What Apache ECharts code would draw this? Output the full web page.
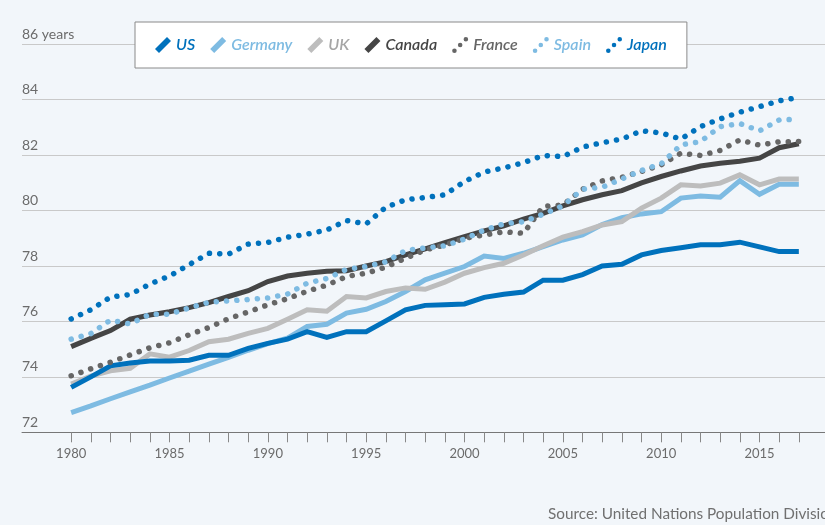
<!DOCTYPE html>
<html>
<head>
<meta charset="utf-8">
<script src="https://cdn.jsdelivr.net/npm/echarts@6/dist/echarts.min.js"></script>
<style>
  html, body { margin: 0; padding: 0; background: #f2f6fa; }
  #chart { width: 825px; height: 525px; }
</style>
</head>
<body>
<div id="chart"></div>
<script>
// Life expectancy at birth, 1980–2017 (years)
const years = [];
for (let y = 1980; y <= 2017; y++) years.push(y);

const us = [73.62, 74.0, 74.4, 74.5, 74.57, 74.57, 74.6, 74.78, 74.78, 75.03,
            75.21, 75.36, 75.63, 75.42, 75.63, 75.63, 76.02, 76.42, 76.58, 76.6,
            76.63, 76.87, 76.98, 77.06, 77.49, 77.49, 77.69, 78.0, 78.06, 78.4,
            78.56, 78.66, 78.77, 78.77, 78.86, 78.69, 78.52, 78.52];
const germany = [72.71, 72.95, 73.21, 73.46, 73.70, 73.96, 74.21, 74.46, 74.70, 74.96,
                 75.2, 75.4, 75.82, 75.9, 76.3, 76.44, 76.72, 77.08, 77.5, 77.74,
                 77.98, 78.36, 78.27, 78.46, 78.7, 78.94, 79.12, 79.5, 79.74, 79.88,
                 79.96, 80.45, 80.53, 80.48, 81.08, 80.59, 80.95, 80.95];
const uk = [73.74, 74.03, 74.22, 74.31, 74.83, 74.71, 74.95, 75.27, 75.36, 75.57,
            75.75, 76.08, 76.42, 76.37, 76.9, 76.85, 77.08, 77.21, 77.16, 77.42,
            77.74, 77.94, 78.1, 78.4, 78.73, 79.04, 79.24, 79.48, 79.6, 80.09,
            80.45, 80.93, 80.89, 80.99, 81.29, 80.93, 81.14, 81.14];
const canada = [75.09, 75.39, 75.67, 76.08, 76.23, 76.35, 76.5, 76.68, 76.9, 77.11,
                77.44, 77.64, 77.74, 77.81, 77.83, 78.0, 78.16, 78.4, 78.62, 78.84,
                79.06, 79.27, 79.45, 79.69, 79.9, 80.17, 80.39, 80.57, 80.72, 81.0,
                81.23, 81.43, 81.61, 81.71, 81.78, 81.89, 82.27, 82.41];
const france = [74.04, 74.29, 74.53, 74.79, 75.05, 75.23, 75.52, 75.78, 76.1, 76.34,
                76.6, 76.82, 77.09, 77.31, 77.62, 77.74, 77.96, 78.28, 78.58, 78.76,
                79.0, 79.12, 79.23, 79.18, 80.15, 80.2, 80.77, 81.07, 81.2, 81.41,
                81.65, 82.07, 81.99, 82.17, 82.55, 82.36, 82.48, 82.49];
const spain = [75.36, 75.56, 76.05, 75.91, 76.26, 76.26, 76.49, 76.69, 76.74, 76.79,
               76.85, 76.99, 77.38, 77.55, 77.88, 77.98, 78.15, 78.56, 78.65, 78.73,
               78.97, 79.3, 79.52, 79.6, 79.87, 80.17, 80.77, 80.84, 81.14, 81.45,
               81.69, 82.37, 82.49, 83.03, 83.14, 82.88, 83.27, 83.3];
const japan = [76.09, 76.42, 76.88, 76.97, 77.35, 77.64, 78.05, 78.46, 78.43, 78.79,
               78.85, 79.04, 79.15, 79.3, 79.64, 79.52, 80.12, 80.39, 80.47, 80.57,
               81.05, 81.39, 81.54, 81.73, 81.99, 81.95, 82.29, 82.45, 82.58, 82.88,
               82.8, 82.58, 83.03, 83.31, 83.55, 83.75, 83.96, 84.08];

const xLabelYears = [1980, 1985, 1990, 1995, 2000, 2005, 2010, 2015];
const yTicks = [72, 74, 76, 78, 80, 82, 84, 86];

const BLUE = '#0071bc';
const LIGHT = '#7ebbe2';
const GREY = '#bdbdbd';
const DARK = '#454545';
const MID = '#666666';

const FONT = 'Lato, "Noto Sans", sans-serif';

// legend glyphs: a slanted bar for solid lines, three dots for dotted lines
const BAR_ICON = 'path://M0,12 L12,0 L16,4 L4,16 Z';
const DOT_ICON = 'path://M0.3,13.7 a2.2,2.2 0 1,0 4.4,0 a2.2,2.2 0 1,0 -4.4,0 Z ' +
                 'M5.8,8.2 a2.2,2.2 0 1,0 4.4,0 a2.2,2.2 0 1,0 -4.4,0 Z ' +
                 'M11.3,2.7 a2.2,2.2 0 1,0 4.4,0 a2.2,2.2 0 1,0 -4.4,0 Z';

const pairs = vals => years.map((y, i) => [y, vals[i]]);

function solid(name, vals, color, z) {
  return {
    name, type: 'line', data: pairs(vals), z,
    showSymbol: false, symbol: 'none', silent: true,
    lineStyle: { color, width: 5, join: 'miter' },
    itemStyle: { color }
  };
}
function dotted(name, vals, color, z) {
  return {
    name, type: 'line', data: pairs(vals), z,
    showSymbol: false, symbol: 'none', silent: true,
    lineStyle: { color, width: 5.5, type: [0.1, 10.2], cap: 'round', join: 'round' },
    itemStyle: { color }
  };
}

function legendItem(name, icon, color, textColor) {
  return {
    name, icon,
    itemStyle: { color, borderWidth: 0 },
    textStyle: { color: textColor }
  };
}

const chart = echarts.init(document.getElementById('chart'), null, { renderer: 'canvas' });
chart.setOption({
  backgroundColor: '#f2f6fa',
  animation: false,
  grid: { left: 22, top: 44.3, right: 0, height: 388 },
  legend: {
    left: 135, top: 22,
    padding: [15, 20],
    itemGap: 15, itemWidth: 16, itemHeight: 16,
    backgroundColor: '#ffffff',
    borderColor: '#8a8a8a', borderWidth: 1,
    selectedMode: false,
    textStyle: { fontFamily: FONT, fontSize: 16, fontStyle: 'italic', fontWeight: 600 },
    data: [
      legendItem('US', BAR_ICON, BLUE, BLUE),
      legendItem('Germany', BAR_ICON, LIGHT, LIGHT),
      legendItem('UK', BAR_ICON, GREY, '#a6a6a6'),
      legendItem('Canada', BAR_ICON, DARK, DARK),
      legendItem('France', DOT_ICON, MID, MID),
      legendItem('Spain', DOT_ICON, LIGHT, LIGHT),
      legendItem('Japan', DOT_ICON, BLUE, BLUE)
    ]
  },
  xAxis: {
    type: 'value',
    min: 1977.5, max: 2018.33,
    axisLine: { show: true, lineStyle: { color: '#777777', width: 1 } },
    axisTick: {
      show: true, length: 10,
      lineStyle: { color: '#888888', width: 1 },
      customValues: years
    },
    axisLabel: {
      customValues: xLabelYears,
      formatter: v => String(v),
      color: '#6b6b6b', fontFamily: FONT, fontSize: 13, margin: 15
    },
    splitLine: { show: false }
  },
  yAxis: {
    type: 'value',
    min: 72, max: 86, interval: 2,
    axisLine: { show: false },
    axisTick: { show: false },
    axisLabel: {
      inside: true, margin: 0,
      align: 'left', verticalAlign: 'bottom',
      padding: [0, 0, 3, 0],
      color: '#6b6b6b', fontFamily: FONT, fontSize: 14,
      formatter: v => (v === yTicks[yTicks.length - 1] ? v + ' years' : String(v))
    },
    splitLine: { show: true, lineStyle: { color: '#c9c9c9', width: 1.2 } }
  },
  series: [
    solid('Germany', germany, LIGHT, 2),
    solid('UK', uk, GREY, 3),
    solid('US', us, BLUE, 4),
    solid('Canada', canada, DARK, 5),
    dotted('France', france, MID, 6),
    dotted('Spain', spain, LIGHT, 7),
    dotted('Japan', japan, BLUE, 8)
  ],
  graphic: [{
    type: 'text', left: 548, top: 507,
    style: {
      text: 'Source: United Nations Population Division',
      fill: '#707070', font: '15.3px ' + FONT
    }
  }]
});
</script>
</body>
</html>
